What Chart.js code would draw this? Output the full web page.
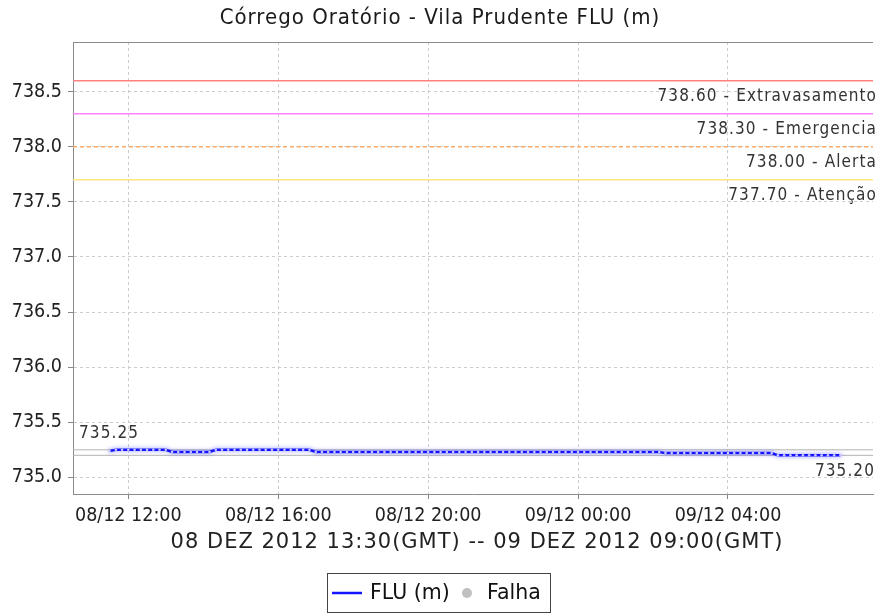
<!DOCTYPE html>
<html>
<head>
<meta charset="utf-8">
<script src="https://cdn.jsdelivr.net/npm/chart.js@4.4.1/dist/chart.umd.min.js"></script>
<style>
html, body { margin: 0; padding: 0; background: #fff; overflow: hidden; }
canvas { display: block; }
</style>
</head>
<body>
<canvas id="chart" width="877" height="614"></canvas>
<script>
// hours counted from 08/12 00:00 (local time), one reading every 10 minutes
var startHour = 11.5
var stepHour = 1 / 6
var fluValues = [
  735.24, 735.25, 735.25, 735.25, 735.25, 735.25, 735.25, 735.25, 735.25, 735.25, 735.23, 735.23,
  735.23, 735.23, 735.23, 735.23, 735.23, 735.25, 735.25, 735.25, 735.25, 735.25, 735.25, 735.25,
  735.25, 735.25, 735.25, 735.25, 735.25, 735.25, 735.25, 735.25, 735.25, 735.23, 735.23, 735.23,
  735.23, 735.23, 735.23, 735.23, 735.23, 735.23, 735.23, 735.23, 735.23, 735.23, 735.23, 735.23,
  735.23, 735.23, 735.23, 735.23, 735.23, 735.23, 735.23, 735.23, 735.23, 735.23, 735.23, 735.23,
  735.23, 735.23, 735.23, 735.23, 735.23, 735.23, 735.23, 735.23, 735.23, 735.23, 735.23, 735.23,
  735.23, 735.23, 735.23, 735.23, 735.23, 735.23, 735.23, 735.23, 735.23, 735.23, 735.23, 735.23,
  735.23, 735.23, 735.23, 735.23, 735.23, 735.22, 735.22, 735.22, 735.22, 735.22, 735.22, 735.22,
  735.22, 735.22, 735.22, 735.22, 735.22, 735.22, 735.22, 735.22, 735.22, 735.22, 735.22, 735.20,
  735.20, 735.20, 735.20, 735.20, 735.20, 735.20, 735.20, 735.20, 735.20, 735.20
]
var xTicks = [12, 16, 20, 24, 28]
var yTicks = [735.0, 735.5, 736.0, 736.5, 737.0, 737.5, 738.0, 738.5]
var xMin = 10.524, xMax = 31.87
var yMin = 734.849, yMax = 738.951

var limitValues = [738.60, 738.30, 738.00, 737.70]
var limitNames = ['Extravasamento', 'Emergencia', 'Alerta', 'Atenção']
var limitColors = ['#ff8080', '#ff80ff', '#ffaa66', '#ffe680']
var maxValue = 735.25
var minValue = 735.20

var titleText = 'Córrego Oratório - Vila Prudente FLU (m)'
var subtitleText = '08 DEZ 2012 13:30(GMT) -- 09 DEZ 2012 09:00(GMT)'

function pad2(n) { return (n < 10 ? '0' : '') + n }
function fmtTime(v) {
  var day = 8 + Math.floor(v / 24)
  var hour = Math.round(v % 24)
  return pad2(day) + '/12 ' + pad2(hour) + ':00'
}

function hline(value, color, width, dash) {
  return {
    data: [{ x: xMin, y: value }, { x: xMax, y: value }],
    borderColor: color,
    borderWidth: width,
    borderDash: dash || [],
    pointRadius: 0,
    fill: false
  }
}

var datasets = [{
  label: 'FLU (m)',
  data: fluValues.map(function (v, i) { return { x: startHour + i * stepHour, y: v } }),
  borderColor: '#1414ff',
  borderWidth: 2.5,
  pointRadius: 1.3,
  pointBorderWidth: 0,
  pointBackgroundColor: '#c8c8ff',
  fill: false
}]
datasets.push(hline(maxValue, '#b4b4b4', 1))
datasets.push(hline(minValue, '#b4b4b4', 1))
limitValues.forEach(function (v, i) {
  datasets.push(hline(v, limitColors[i], 1.5, limitNames[i] === 'Alerta' ? [4, 3] : null))
})

var extras = {
  id: 'extras',
  beforeDatasetDraw: function (chart, args) {
    if (args.index === 0) {
      chart.ctx.save()
      chart.ctx.shadowColor = 'rgba(60,60,255,0.45)'
      chart.ctx.shadowBlur = 4
    }
  },
  afterDatasetDraw: function (chart, args) {
    if (args.index === 0) chart.ctx.restore()
  },
  afterDraw: function (chart) {
    var ctx = chart.ctx
    var area = chart.chartArea
    var ys = chart.scales.y
    ctx.save()
    // top border
    ctx.strokeStyle = '#8c8c8c'
    ctx.lineWidth = 1
    ctx.beginPath()
    ctx.moveTo(area.left, area.top + 0.5)
    ctx.lineTo(area.right, area.top + 0.5)
    ctx.stroke()

    // title
    ctx.fillStyle = '#1a1a1a'
    ctx.textBaseline = 'middle'
    ctx.textAlign = 'center'
    ctx.font = '22px "DejaVu Sans Condensed"'
    ctx.letterSpacing = '1px'
    ctx.fillText(titleText, 440, 18)

    // axis subtitle
    ctx.font = '21px "DejaVu Sans"'
    ctx.letterSpacing = '1px'
    ctx.fillStyle = '#222'
    ctx.fillText(subtitleText, 477, 543)

    // limit labels
    ctx.font = '17px "DejaVu Sans Condensed"'
    ctx.letterSpacing = '1.1px'
    ctx.fillStyle = '#333'
    ctx.textAlign = 'right'
    limitValues.forEach(function (v, i) {
      ctx.fillText(v.toFixed(2) + ' - ' + limitNames[i], 877, ys.getPixelForValue(v) + 15.5)
    })
    ctx.fillText(minValue.toFixed(2), 875, ys.getPixelForValue(minValue) + 16.5)
    ctx.textAlign = 'left'
    ctx.fillText(maxValue.toFixed(2), 79, ys.getPixelForValue(maxValue) - 16)

    // legend
    ctx.letterSpacing = '0px'
    ctx.strokeStyle = '#444'
    ctx.lineWidth = 1
    ctx.strokeRect(327.5, 573.5, 223, 39)
    ctx.strokeStyle = datasets[0].borderColor
    ctx.lineWidth = 2.5
    ctx.beginPath()
    ctx.moveTo(332, 593)
    ctx.lineTo(362, 593)
    ctx.stroke()
    ctx.font = '20.5px "DejaVu Sans"'
    ctx.fillStyle = '#111'
    ctx.fillText(datasets[0].label, 370, 594)
    ctx.fillStyle = '#c0c0c0'
    ctx.beginPath()
    ctx.arc(467, 593, 5, 0, Math.PI * 2)
    ctx.fill()
    ctx.fillStyle = '#111'
    ctx.fillText('Falha', 487, 594)
    ctx.restore()
  }
}

var tickFont = { family: 'DejaVu Sans Condensed', size: 19.5 }

new Chart(document.getElementById('chart'), {
  type: 'line',
  data: { datasets: datasets },
  plugins: [extras],
  options: {
    responsive: false,
    animation: false,
    devicePixelRatio: 1,
    layout: { padding: { top: 42, left: 0, right: 0, bottom: 0 } },
    plugins: {
      legend: { display: false },
      title: { display: false },
      tooltip: { enabled: false }
    },
    scales: {
      x: {
        type: 'linear',
        min: xMin,
        max: xMax,
        afterBuildTicks: function (scale) {
          scale.ticks = xTicks.map(function (v) { return { value: v } })
        },
        afterFit: function (scale) { scale.height = 120 },
        grid: { color: '#cccccc', tickColor: '#888', tickLength: 5, lineWidth: 1 },
        border: { color: '#8c8c8c', width: 1, dash: [3, 3] },
        ticks: {
          font: tickFont,
          color: '#222',
          padding: 5,
          maxRotation: 0,
          autoSkip: false,
          callback: function (v) { return fmtTime(v) }
        }
      },
      y: {
        type: 'linear',
        min: yMin,
        max: yMax,
        afterBuildTicks: function (scale) {
          scale.ticks = yTicks.map(function (v) { return { value: v } })
        },
        afterFit: function (scale) { scale.width = 73 },
        grid: { color: '#cccccc', tickColor: '#888', tickLength: 5, lineWidth: 1 },
        border: { color: '#8c8c8c', width: 1, dash: [3, 3] },
        ticks: {
          font: tickFont,
          color: '#222',
          padding: 6,
          autoSkip: false,
          callback: function (v) { return v.toFixed(1) }
        }
      }
    }
  }
})
</script>
</body>
</html>
